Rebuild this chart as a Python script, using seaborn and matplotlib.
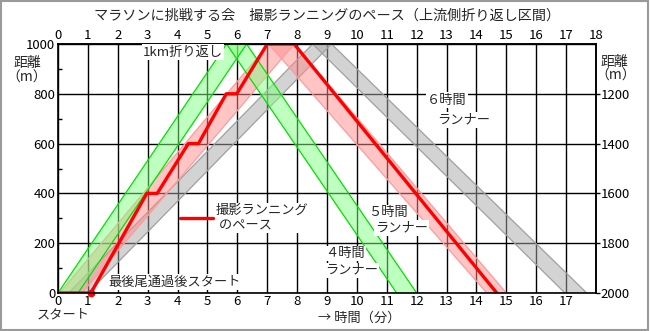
import numpy as np
import pandas as pd
import matplotlib
matplotlib.use("Agg")
import matplotlib.pyplot as plt
import seaborn as sns
from matplotlib.ticker import MultipleLocator
from matplotlib.lines import Line2D
from matplotlib.patches import Rectangle

# ---------------- data ----------------
# photographer's running pace: time (min) vs cumulative distance (m) over the 2 km out-and-back
red_time = [0.0, 1.1, 2.97, 3.32, 4.36, 4.70, 5.63, 5.98, 7.0, 7.9, 14.68]
red_dist = [0, 0, 400, 400, 600, 600, 800, 800, 1000, 1000, 2000]

# runner groups: times (min) of front / back of group at start (0 m), turn (1000 m), return (2000 m)
green_start = [0.0, 0.67]
green_turn = [5.64, 6.31]
green_finish = [11.33, 12.0]

pink_start = [0.05, 0.80]
pink_turn = [7.05, 7.90]
pink_finish = [14.35, 15.0]

gray_start = [0.35, 1.0]
gray_turn = [8.52, 9.15]
gray_finish = [16.96, 17.69]

x_ticks = list(range(0, 19))
left_ticks = [0, 200, 400, 600, 800, 1000]
right_ticks = [1200, 1400, 1600, 1800, 2000]

# ---------------- style ----------------
sns.set_theme(style="white")
plt.rcParams["font.family"] = ["Noto Sans CJK JP", "DejaVu Sans"]
FS = 9.5

fig = plt.figure(figsize=(6.5, 3.31), dpi=100)
fig.patch.set_facecolor("white")
ax = fig.add_axes([58 / 650, 38 / 331, 538 / 650, 249 / 331])
ax.set_facecolor("white")


def to_y(d):
    d = np.asarray(d, dtype=float)
    return np.where(d <= 1000, d, 2000 - d)


def draw_band(start, turn, finish, fill, edge, z):
    # ascending part
    ax.fill([start[0], turn[0], turn[1], start[1]], [0, 1000, 1000, 0],
            color=fill, alpha=0.5, lw=0, zorder=z)
    # descending part
    ax.fill([turn[0], finish[0], finish[1], turn[1]], [1000, 0, 0, 1000],
            color=fill, alpha=0.5, lw=0, zorder=z)
    for i in range(2):
        df = pd.DataFrame({"t": [start[i], turn[i], finish[i]],
                           "y": to_y([0, 1000, 2000])})
        sns.lineplot(data=df, x="t", y="y", ax=ax, color=edge, lw=0.9,
                     estimator=None, sort=False, zorder=z + 0.1)


draw_band(gray_start, gray_turn, gray_finish, "#a8a8a8", "#a0a0a0", 1.0)
draw_band(pink_start, pink_turn, pink_finish, "#ff8c8c", "#ff9a9a", 1.2)
draw_band(green_start, green_turn, green_finish, "#80ff80", "#00e000", 1.4)

red_df = pd.DataFrame({"t": red_time, "y": to_y(red_dist)})
sns.lineplot(data=red_df, x="t", y="y", ax=ax, color="#ff0000", lw=2.4,
             estimator=None, sort=False, zorder=3)
ax.plot([red_time[1]], [to_y(red_dist[1])], "o", color="#ff0000", ms=4.5,
        zorder=3.5, clip_on=False)

# ---------------- axes ----------------
ax.set_xlim(0, 18)
ax.set_ylim(0, 1000)
ax.set_xlabel("")
ax.set_ylabel("")
ax.set_xticks(x_ticks)
ax.set_xticklabels([str(v) if v < 18 else "" for v in x_ticks], fontsize=FS)
ax.set_yticks(left_ticks)
ax.set_yticklabels([str(v) for v in left_ticks], fontsize=FS)
ax.yaxis.set_minor_locator(MultipleLocator(100))
ax.tick_params(axis="x", which="major", length=0, pad=1.5, colors="black")
ax.tick_params(axis="y", which="major", length=0, pad=2, colors="black")
ax.tick_params(axis="y", which="minor", left=True, direction="in", length=3,
               width=1, color="black")
ax.grid(True, which="major", color="black", lw=1)
ax.set_axisbelow(True)
for s in ax.spines.values():
    s.set_color("black")
    s.set_linewidth(1.2)
    s.set_zorder(4)

top = ax.secondary_xaxis("top")
top.set_xticks(x_ticks)
top.set_xticklabels([str(v) for v in x_ticks], fontsize=FS)
top.tick_params(length=0, pad=1.5, colors="black")

right = ax.secondary_yaxis("right", functions=(lambda y: 2000 - y, lambda d: 2000 - d))
right.set_yticks(right_ticks)
right.set_yticklabels([str(v) for v in right_ticks], fontsize=FS)
right.tick_params(length=3, width=1, direction="out", pad=0.5, colors="black")

# ---------------- texts ----------------
wb = dict(facecolor="white", edgecolor="none", pad=0.8)
fig.text(0.503, 0.953, "マラソンに挑戦する会　撮影ランニングのペース（上流側折り返し区間）",
         ha="center", va="center", fontsize=10.2)
ax.text(2.84, 968, "1km折り返し", ha="left", va="center", fontsize=FS, bbox=wb, zorder=5)
ax.text(12.34, 775, "６時間", ha="left", va="center", fontsize=FS, bbox=wb, zorder=5)
ax.text(12.68, 695, "ランナー", ha="left", va="center", fontsize=FS, bbox=wb, zorder=5)
ax.text(10.37, 325, "５時間", ha="left", va="center", fontsize=FS, bbox=wb, zorder=5)
ax.text(10.60, 261, "ランナー", ha="left", va="center", fontsize=FS, bbox=wb, zorder=5)
ax.text(8.93, 157, "４時間", ha="left", va="center", fontsize=FS, bbox=wb, zorder=5)
ax.text(8.93, 92, "ランナー", ha="left", va="center", fontsize=FS, bbox=wb, zorder=5)
ax.text(1.67, 44, "最後尾通過後スタート", ha="left", va="center", fontsize=FS, bbox=wb, zorder=5)

fig.text(27 / 650, 1 - 63 / 331, "距離", ha="center", va="center", fontsize=10)
fig.text(27 / 650, 1 - 78 / 331, "（m）", ha="center", va="center", fontsize=10)
fig.text(614 / 650, 1 - 62 / 331, "距離", ha="center", va="center", fontsize=10)
fig.text(616 / 650, 1 - 76 / 331, "（m）", ha="center", va="center", fontsize=10)
fig.text(63 / 650, 1 - 315 / 331, "スタート", ha="center", va="center", fontsize=FS)
fig.text(318 / 650, 1 - 318 / 331, "→ 時間（分）", ha="left", va="center", fontsize=FS)

leg = ax.legend(handles=[Line2D([], [], color="#ff0000", lw=2.4)],
                labels=["撮影ランニング\n のペース"], loc="center left",
                bbox_to_anchor=((180 - 58) / 538, (293 - 218) / 249),
                frameon=False, fontsize=FS, handlelength=2.5, handletextpad=0.2,
                borderpad=0, borderaxespad=0)
leg.set_zorder(6)
for t in leg.get_texts():
    t.set_bbox(dict(facecolor="white", edgecolor="none", pad=0.5))

# outer frame
fig.patches.append(Rectangle((0.001, 0.002), 0.996, 0.995, transform=fig.transFigure,
                             fill=False, edgecolor="#9a9a9a", lw=1.5))

fig.savefig("out.png", dpi=100, facecolor="white")
